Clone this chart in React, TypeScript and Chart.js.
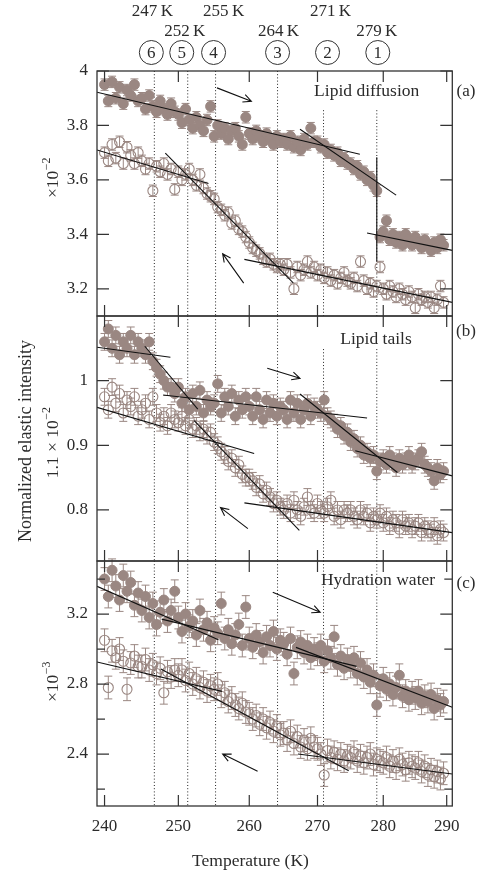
import React, { useEffect, useRef } from "react";
import { Chart, registerables } from "chart.js";

Chart.register(...registerables);

const FONT = '"Liberation Serif", "DejaVu Serif", serif';
const INK = "#2b2b2b";
const MARK = "#9a8782";

// ---------- data ----------
const temps = [
  240, 240.5, 241, 241.5, 242, 242.5, 243, 243.5, 244, 244.5,
  245, 245.5, 246, 246.5, 247, 247.5, 248, 248.5, 249, 249.5,
  250, 250.5, 251, 251.5, 252, 252.5, 253, 253.5, 254, 254.5,
  255, 255.5, 256, 256.5, 257, 257.5, 258, 258.5, 259, 259.5,
  260, 260.5, 261, 261.5, 262, 262.5, 263, 263.5, 264, 264.5,
  265, 265.5, 266, 266.5, 267, 267.5, 268, 268.5, 269, 269.5,
  270, 270.5, 271, 271.5, 272, 272.5, 273, 273.5, 274, 274.5,
  275, 275.5, 276, 276.5, 277, 277.5, 278, 278.5, 279, 279.5,
  280, 280.5, 281, 281.5, 282, 282.5, 283, 283.5, 284, 284.5,
  285, 285.5, 286, 286.5, 287, 287.5, 288, 288.5, 289, 289.5,
];

// (a) Lipid diffusion, x10^-2
const aHeat = [
  3.95, 3.89, 3.96, 3.90, 3.94, 3.88, 3.93, 3.91, 3.95, 3.89,
  3.90, 3.86, 3.91, 3.87, 3.85, 3.89, 3.86, 3.84, 3.88, 3.85,
  3.84, 3.81, 3.86, 3.82, 3.79, 3.83, 3.80, 3.78, 3.82, 3.87,
  3.76, 3.80, 3.77, 3.79, 3.75, 3.78, 3.79, 3.76, 3.73, 3.83,
  3.77, 3.75, 3.78, 3.76, 3.74, 3.77, 3.75, 3.73, 3.76, 3.74,
  3.75, 3.73, 3.76, 3.72, 3.74, 3.71, 3.75, 3.73, 3.79, 3.74,
  3.74, 3.72, 3.73, 3.70, 3.71, 3.69, 3.70, 3.67, 3.68, 3.66,
  3.66, 3.64, 3.65, 3.62, 3.63, 3.60, 3.61, 3.58, 3.56, 3.39,
  3.41, 3.45, 3.38, 3.40, 3.37, 3.39, 3.36, 3.40, 3.38, 3.36,
  3.39, 3.37, 3.35, 3.38, 3.36, 3.34, 3.37, 3.35, 3.38, 3.36,
];
const aCool = [
  3.70, 3.67, 3.73, 3.68, 3.74, 3.66, 3.72, 3.69, 3.66, 3.70,
  3.67, 3.64, 3.66, 3.56, 3.65, 3.63, 3.66, 3.62, 3.64, 3.565,
  3.63, 3.60, 3.62, 3.64, 3.60, 3.58, 3.62, 3.57, 3.55, 3.54,
  3.53, 3.50, 3.49, 3.47, 3.48, 3.44, 3.45, 3.42, 3.41, 3.39,
  3.37, 3.35, 3.34, 3.33, 3.31, 3.30, 3.31, 3.29, 3.28, 3.29,
  3.27, 3.29, 3.26, 3.20, 3.28, 3.25, 3.27, 3.30, 3.26, 3.28,
  3.25, 3.27, 3.24, 3.26, 3.23, 3.25, 3.22, 3.24, 3.26, 3.23,
  3.22, 3.24, 3.21, 3.30, 3.23, 3.20, 3.22, 3.19, 3.21, 3.28,
  3.20, 3.18, 3.21, 3.19, 3.17, 3.20, 3.18, 3.16, 3.19, 3.17,
  3.13, 3.18, 3.16, 3.17, 3.15, 3.17, 3.13, 3.16, 3.21, 3.15,
];

// (b) Lipid tails, 1.1 x 10^-2
const bHeat = [
  1.06, 1.08, 1.05, 1.07, 1.04, 1.06, 1.05, 1.07, 1.04, 1.06,
  1.05, 1.04, 1.06, 1.03, 1.02, 1.01, 1.00, 0.99, 0.99, 0.98,
  0.99, 0.965, 0.975, 0.955, 0.98, 0.96, 0.985, 0.95, 0.97, 0.96,
  0.965, 0.995, 0.95, 0.975, 0.96, 0.98, 0.945, 0.97, 0.955, 0.975,
  0.96, 0.945, 0.975, 0.955, 0.94, 0.97, 0.95, 0.965, 0.945, 0.96,
  0.955, 0.94, 0.97, 0.95, 0.965, 0.94, 0.955, 0.965, 0.945, 0.96,
  0.955, 0.95, 0.97, 0.945, 0.94, 0.935, 0.925, 0.93, 0.915, 0.92,
  0.905, 0.91, 0.895, 0.90, 0.885, 0.89, 0.88, 0.885, 0.86, 0.875,
  0.88, 0.87, 0.885, 0.875, 0.865, 0.88, 0.87, 0.875, 0.885, 0.87,
  0.875, 0.88, 0.89, 0.87, 0.865, 0.86, 0.845, 0.865, 0.855, 0.86,
];
const bCool = [
  0.975, 0.955, 0.99, 0.965, 0.98, 0.95, 0.97, 0.96, 0.975, 0.945,
  0.955, 0.965, 0.94, 0.975, 0.95, 0.935, 0.945, 0.93, 0.95, 0.94,
  0.935, 0.945, 0.93, 0.94, 0.925, 0.93, 0.92, 0.925, 0.915, 0.92,
  0.905, 0.90, 0.89, 0.885, 0.875, 0.88, 0.865, 0.87, 0.855, 0.85,
  0.85, 0.845, 0.835, 0.84, 0.825, 0.83, 0.82, 0.81, 0.815, 0.805,
  0.80, 0.81, 0.795, 0.815, 0.80, 0.79, 0.805, 0.82, 0.80, 0.795,
  0.81, 0.80, 0.795, 0.805, 0.815, 0.79, 0.80, 0.785, 0.80, 0.795,
  0.80, 0.79, 0.785, 0.80, 0.79, 0.795, 0.78, 0.79, 0.785, 0.795,
  0.78, 0.79, 0.775, 0.785, 0.78, 0.77, 0.785, 0.775, 0.78, 0.77,
  0.775, 0.78, 0.765, 0.775, 0.77, 0.765, 0.775, 0.76, 0.77, 0.765,
];

// (c) Hydration water, x10^-3
const cHeat = [
  3.40, 3.30, 3.45, 3.36, 3.28, 3.42, 3.33, 3.38, 3.25, 3.32,
  3.22, 3.30, 3.18, 3.26, 3.14, 3.21, 3.28, 3.16, 3.22, 3.33,
  3.18, 3.10, 3.20, 3.13, 3.16, 3.08, 3.22, 3.11, 3.15, 3.05,
  3.12, 3.09, 3.26, 3.06, 3.11, 3.03, 3.08, 3.14, 3.02, 3.24,
  3.06, 3.01, 3.08, 3.04, 2.98, 3.07, 3.02, 3.10, 3.00, 3.05,
  3.03, 2.97, 3.06, 2.86, 3.01, 3.04, 2.98, 3.02, 2.95, 3.00,
  2.97, 3.02, 2.93, 2.99, 2.95, 3.07, 2.91, 2.96, 2.89, 2.94,
  2.90, 2.95, 2.86, 2.92, 2.84, 2.88, 2.81, 2.85, 2.68, 2.79,
  2.83, 2.77, 2.80, 2.74, 2.78, 2.85, 2.73, 2.76, 2.71, 2.75,
  2.72, 2.76, 2.69, 2.73, 2.70, 2.74, 2.66, 2.71, 2.68, 2.70,
];
const cCool = [
  3.05, 2.78, 2.99, 2.95, 3.00, 2.93, 2.77, 2.92, 2.96, 2.90,
  2.90, 2.94, 2.88, 2.91, 2.86, 2.89, 2.75, 2.87, 2.84, 2.88,
  2.85, 2.88, 2.82, 2.86, 2.80, 2.83, 2.78, 2.81, 2.76, 2.79,
  2.77, 2.80, 2.73, 2.75, 2.70, 2.72, 2.68, 2.66, 2.69, 2.64,
  2.63, 2.60, 2.62, 2.57, 2.60, 2.55, 2.58, 2.53, 2.56, 2.51,
  2.52, 2.48, 2.53, 2.46, 2.50, 2.44, 2.48, 2.43, 2.49, 2.44,
  2.43, 2.40, 2.28, 2.42, 2.38, 2.41, 2.37, 2.40, 2.36, 2.39,
  2.38, 2.41, 2.36, 2.39, 2.35, 2.38, 2.40, 2.34, 2.37, 2.36,
  2.35, 2.38, 2.33, 2.36, 2.32, 2.37, 2.34, 2.31, 2.35, 2.33,
  2.32, 2.35, 2.30, 2.33, 2.28, 2.31, 2.27, 2.30, 2.26, 2.29,
];

const errA = 0.021;
const errB = 0.013;
const errC = 0.065;

// fitted straight lines [[T1, y1], [T2, y2]]
const fitA = [
  [[239.0, 3.922], [276.4, 3.694]],
  [[267.4, 3.786], [282.0, 3.544]],
  [[277.5, 3.405], [290.9, 3.341]],
  [[279.0, 3.683], [279.0, 3.300]],
  [[239.0, 3.710], [254.2, 3.587]],
  [[248.2, 3.698], [266.4, 3.222]],
  [[259.3, 3.308], [290.9, 3.150]],
];
const fitB = [
  [[239.0, 1.0517], [248.9, 1.0362]],
  [[245.4, 1.0532], [252.7, 0.956]],
  [[247.9, 0.9778], [277.5, 0.9421]],
  [[267.4, 0.9793], [282.2, 0.8579]],
  [[275.7, 0.8915], [290.9, 0.8527]],
  [[239.0, 0.9587], [260.7, 0.8873]],
  [[252.2, 0.938], [267.3, 0.7685]],
  [[259.3, 0.8109], [290.9, 0.7649]],
];
const fitC = [
  [[239.0, 3.358], [255.6, 3.053]],
  [[247.7, 3.171], [275.9, 2.901]],
  [[266.8, 3.0095], [290.9, 2.667]],
  [[239.0, 2.926], [256.1, 2.758]],
  [[247.6, 2.886], [274.7, 2.305]],
  [[267.1, 2.40], [290.9, 2.286]],
];

// arrows [[from], [to]]
const arrowsA = [
  [[255.4, 3.938], [260.3, 3.889]],
  [[259.2, 3.221], [256.2, 3.329]],
];
const arrowsB = [
  [[262.6, 1.0191], [267.4, 1.0036]],
  [[259.8, 0.7711], [255.9, 0.8036]],
];
const arrowsC = [
  [[263.4, 3.324], [270.4, 3.21]],
  [[261.2, 2.301], [256.2, 2.40]],
];

const xTicks = [240, 250, 260, 270, 280, 290];
const aTicks = [3.2, 3.4, 3.6, 3.8, 4];
const bTicks = [0.8, 0.9, 1];
const cTicks = [2.4, 2.8, 3.2];
const cMinor = [2.2, 2.6, 3.0, 3.4];

const transitionTemps = [246.7, 251.3, 255.2, 264.1, 270.9, 279.0];
const transitionLabels = ["247\u2009K", "252\u2009K", "255\u2009K", "264\u2009K", "271\u2009K", "279\u2009K"];
const transitionNumbers = ["6", "5", "4", "3", "2", "1"];

const panelTitles = ["Lipid diffusion", "Lipid tails", "Hydration water"];
const panelTags = ["(a)", "(b)", "(c)"];

// ---------- helpers ----------
function pts(ys: number[]) {
  return temps.map((t, i) => ({ x: t, y: ys[i] }));
}

function font(size: number) {
  return `${size}px ${FONT}`;
}

function rotText(ctx: CanvasRenderingContext2D, x: number, y: number, main: string, sup: string, size: number) {
  ctx.save();
  ctx.translate(x, y);
  ctx.rotate(-Math.PI / 2);
  ctx.fillStyle = INK;
  ctx.textBaseline = "middle";
  ctx.textAlign = "left";
  ctx.font = font(size);
  const wm = ctx.measureText(main).width;
  ctx.font = font(size * 0.68);
  const ws = sup ? ctx.measureText(sup).width : 0;
  const start = -(wm + ws) / 2;
  ctx.font = font(size);
  ctx.fillText(main, start, 0);
  if (sup) {
    ctx.font = font(size * 0.68);
    ctx.fillText(sup, start + wm + 0.5, -size * 0.36);
  }
  ctx.restore();
}

export default function App() {
  const ref = useRef<HTMLCanvasElement>(null);

  useEffect(() => {
    document.body.style.margin = "0";
    const canvas = ref.current!;

    const panels = [
      { id: "ya", min: 3.1, max: 4.0, heat: aHeat, cool: aCool, err: errA, fits: fitA, arrows: arrowsA, ticks: aTicks, minor: [] as number[], dotStart: [0, 0, 0, 0, 0.16, 0.16] },
      { id: "yb", min: 0.721, max: 1.1, heat: bHeat, cool: bCool, err: errB, fits: fitB, arrows: arrowsB, ticks: bTicks, minor: [] as number[], dotStart: [0, 0, 0, 0, 0.135, 0.135] },
      { id: "yc", min: 2.103, max: 3.503, heat: cHeat, cool: cCool, err: errC, fits: fitC, arrows: arrowsC, ticks: cTicks, minor: cMinor, dotStart: [0, 0, 0, 0, 0, 0] },
    ];

    const datasets: any[] = [];
    panels.forEach((p) => {
      p.fits.forEach((seg) =>
        datasets.push({
          data: [{ x: seg[0][0], y: seg[0][1] }, { x: seg[1][0], y: seg[1][1] }],
          yAxisID: p.id,
          showLine: true,
          pointRadius: 0,
          borderColor: "#111",
          borderWidth: 1.1,
          order: 0,
        })
      );
      datasets.push({
        data: pts(p.heat),
        yAxisID: p.id,
        errBar: p.err,
        showLine: false,
        pointRadius: 5,
        pointBackgroundColor: MARK,
        pointBorderColor: MARK,
        pointBorderWidth: 1,
        order: 1,
      });
      datasets.push({
        data: pts(p.cool),
        yAxisID: p.id,
        errBar: p.err,
        showLine: false,
        pointRadius: 5,
        pointBackgroundColor: "rgba(0,0,0,0)",
        pointBorderColor: MARK,
        pointBorderWidth: 1.1,
        order: 1,
      });
    });

    const yScale = (p: any) => ({
      type: "linear",
      position: "left",
      stack: "panels",
      stackWeight: 1,
      min: p.min,
      max: p.max,
      afterBuildTicks: (s: any) => {
        s.ticks = p.ticks.map((v: number) => ({ value: v }));
      },
      afterFit: (s: any) => {
        s.width = 97;
      },
      grid: { display: false, drawTicks: false },
      border: { display: false },
      ticks: {
        padding: 9,
        color: INK,
        font: { family: FONT, size: 17 },
        callback: (v: any) => String(v),
      },
    });

    const decor = {
      id: "decor",
      beforeDatasetsDraw(chart: any) {
        const ctx = chart.ctx as CanvasRenderingContext2D;
        const xs = chart.scales.x;
        // dotted transition lines
        panels.forEach((p) => {
          const ys = chart.scales[p.id];
          transitionTemps.forEach((t, k) => {
            const px = xs.getPixelForValue(t);
            ctx.save();
            ctx.setLineDash([1, 2.2]);
            ctx.strokeStyle = "#222";
            ctx.lineWidth = 1;
            ctx.beginPath();
            ctx.moveTo(px, ys.top + p.dotStart[k] * (ys.bottom - ys.top));
            ctx.lineTo(px, ys.bottom);
            ctx.stroke();
            ctx.restore();
          });
        });
        // error bars
        chart.data.datasets.forEach((ds: any) => {
          if (!ds.errBar) return;
          const ys = chart.scales[ds.yAxisID];
          ctx.save();
          ctx.strokeStyle = MARK;
          ctx.lineWidth = 1;
          ctx.beginPath();
          ds.data.forEach((d: any) => {
            const px = xs.getPixelForValue(d.x);
            const y1 = ys.getPixelForValue(d.y + ds.errBar);
            const y2 = ys.getPixelForValue(d.y - ds.errBar);
            ctx.moveTo(px, y1);
            ctx.lineTo(px, y2);
            ctx.moveTo(px - 4, y1);
            ctx.lineTo(px + 4, y1);
            ctx.moveTo(px - 4, y2);
            ctx.lineTo(px + 4, y2);
          });
          ctx.stroke();
          ctx.restore();
        });
      },
      afterDatasetsDraw(chart: any) {
        const ctx = chart.ctx as CanvasRenderingContext2D;
        const xs = chart.scales.x;
        const { left, right } = chart.chartArea;
        ctx.save();
        ctx.strokeStyle = "#333";
        ctx.fillStyle = INK;
        panels.forEach((p, pi) => {
          const ys = chart.scales[p.id];
          // frame
          ctx.lineWidth = 1.3;
          ctx.strokeRect(left, ys.top, right - left, ys.bottom - ys.top);
          // x ticks, inward on top and bottom
          ctx.lineWidth = 1.2;
          ctx.beginPath();
          xTicks.forEach((t) => {
            const px = xs.getPixelForValue(t);
            ctx.moveTo(px, ys.top);
            ctx.lineTo(px, ys.top + 11);
            ctx.moveTo(px, ys.bottom);
            ctx.lineTo(px, ys.bottom - 11);
          });
          // y ticks, inward on left and right
          p.ticks.forEach((v) => {
            const py = ys.getPixelForValue(v);
            ctx.moveTo(left, py);
            ctx.lineTo(left + 12, py);
            ctx.moveTo(right, py);
            ctx.lineTo(right - 12, py);
          });
          p.minor.forEach((v) => {
            const py = ys.getPixelForValue(v);
            ctx.moveTo(left, py);
            ctx.lineTo(left + 8, py);
            ctx.moveTo(right, py);
            ctx.lineTo(right - 8, py);
          });
          ctx.stroke();
          // arrows
          ctx.strokeStyle = "#111";
          ctx.lineWidth = 1.1;
          p.arrows.forEach((a) => {
            const x1 = xs.getPixelForValue(a[0][0]);
            const y1 = ys.getPixelForValue(a[0][1]);
            const x2 = xs.getPixelForValue(a[1][0]);
            const y2 = ys.getPixelForValue(a[1][1]);
            const ang = Math.atan2(y2 - y1, x2 - x1);
            const h = 9;
            ctx.beginPath();
            ctx.moveTo(x1, y1);
            ctx.lineTo(x2, y2);
            ctx.moveTo(x2 - h * Math.cos(ang - 0.45), y2 - h * Math.sin(ang - 0.45));
            ctx.lineTo(x2, y2);
            ctx.lineTo(x2 - h * Math.cos(ang + 0.45), y2 - h * Math.sin(ang + 0.45));
            ctx.stroke();
          });
          ctx.strokeStyle = "#333";
          // titles and tags
          ctx.textBaseline = "middle";
          ctx.textAlign = "center";
          ctx.font = font(17.5);
          const titleX = [366.7, 376, 378][pi];
          const titleY = ys.top + [20, 23, 19][pi];
          ctx.fillText(panelTitles[pi], titleX, titleY);
          ctx.font = font(17);
          ctx.fillText(panelTags[pi], 466, ys.top + [21, 16, 23][pi]);
        });

        // y-axis texts
        rotText(ctx, 53, 178, "\u00d710", "\u22122", 17.5);
        rotText(ctx, 53, 443, "1.1 \u00d7 10", "\u22122", 17.5);
        rotText(ctx, 53, 682, "\u00d710", "\u22123", 17.5);
        rotText(ctx, 26, 441, "Normalized elastic intensity", "", 18);

        // x-axis title
        ctx.textAlign = "center";
        ctx.textBaseline = "middle";
        ctx.font = font(17.5);
        ctx.fillText("Temperature (K)", 250.5, 861);

        // transition labels on top
        const labelDx = [-2, -3, 8, 1, 7, 0];
        const circleDx = [-3, -6, -2, 0, 4, 1];
        ctx.font = font(17);
        transitionTemps.forEach((t, k) => {
          const px = xs.getPixelForValue(t);
          const rowY = k % 2 === 0 ? 11.5 : 31.5;
          ctx.fillText(transitionLabels[k], px + labelDx[k], rowY);
          const cx = px + circleDx[k];
          ctx.lineWidth = 1;
          ctx.beginPath();
          ctx.arc(cx, 52.5, 12, 0, Math.PI * 2);
          ctx.stroke();
          ctx.fillText(transitionNumbers[k], cx, 53.5);
        });
        ctx.restore();
      },
    };

    const chart = new Chart(canvas, {
      type: "scatter",
      data: { datasets },
      options: {
        responsive: false,
        animation: false,
        devicePixelRatio: 1,
        layout: { padding: { top: 71, right: 24.7, left: 0, bottom: 0 } },
        plugins: { legend: { display: false }, tooltip: { enabled: false } },
        scales: {
          x: {
            type: "logarithmic",
            position: "bottom",
            min: 239.0,
            max: 290.9,
            afterBuildTicks: (s: any) => {
              s.ticks = xTicks.map((v) => ({ value: v }));
            },
            afterFit: (s: any) => {
              s.height = 67;
            },
            grid: { display: false, drawTicks: false },
            border: { display: false },
            ticks: {
              padding: 10,
              autoSkip: false,
              maxRotation: 0,
              color: INK,
              font: { family: FONT, size: 17 },
              callback: (v: any) => String(v),
            },
          },
          // left-stacked axes are placed in reverse order: listed bottom-up
          yc: yScale(panels[2]),
          yb: yScale(panels[1]),
          ya: yScale(panels[0]),
        } as any,
      },
      plugins: [decor],
    } as any);

    return () => chart.destroy();
  }, []);

  return <canvas ref={ref} width={477} height={873} style={{ display: "block" }} />;
}
